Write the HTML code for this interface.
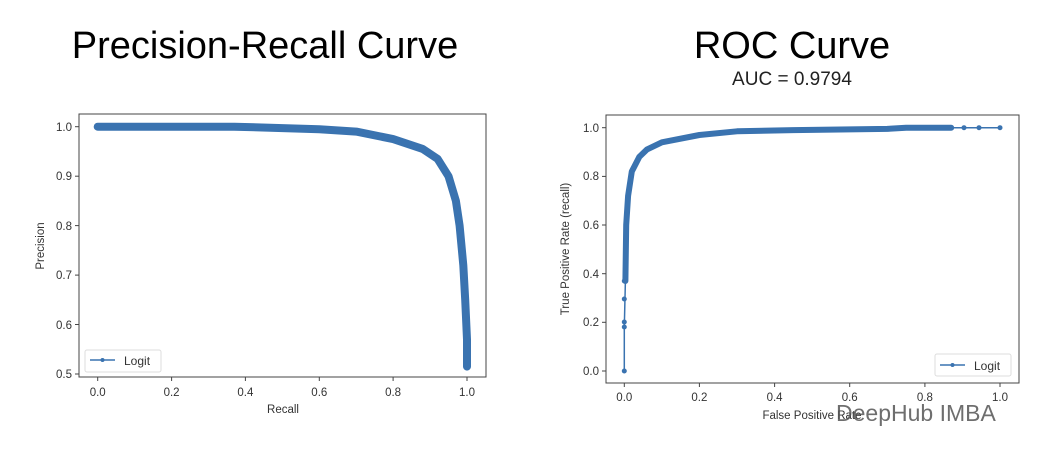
<!DOCTYPE html>
<html><head><meta charset="utf-8"><style>
html,body{margin:0;padding:0;background:#fff;}
svg{display:block;}
text{font-family:"Liberation Sans","DejaVu Sans",sans-serif;fill:#333;}
</style></head><body>
<svg width="1050" height="462" viewBox="0 0 1050 462" xmlns="http://www.w3.org/2000/svg">
<text x="265" y="58" font-size="38" text-anchor="middle" fill="#000" style="fill:#000">Precision-Recall Curve</text>
<text x="792" y="58" font-size="38" text-anchor="middle" style="fill:#000">ROC Curve</text>
<text x="792" y="85" font-size="19" text-anchor="middle" style="fill:#222">AUC = 0.9794</text>

<!-- Left plot -->
<rect x="79" y="114" width="407" height="263" fill="none" stroke="#444" stroke-width="1"/>
<g font-size="11.5" text-anchor="end">
<g stroke="#444"><line x1="75" y1="126.7" x2="79" y2="126.7"/><line x1="75" y1="176.2" x2="79" y2="176.2"/><line x1="75" y1="225.6" x2="79" y2="225.6"/><line x1="75" y1="275.1" x2="79" y2="275.1"/><line x1="75" y1="324.5" x2="79" y2="324.5"/><line x1="75" y1="374" x2="79" y2="374"/></g>
<text x="72" y="131">1.0</text><text x="72" y="180">0.9</text><text x="72" y="230">0.8</text><text x="72" y="279">0.7</text><text x="72" y="329">0.6</text><text x="72" y="378">0.5</text>
</g>
<g font-size="11.5" text-anchor="middle">
<g stroke="#444"><line x1="97.7" y1="377" x2="97.7" y2="381"/><line x1="171.6" y1="377" x2="171.6" y2="381"/><line x1="245.4" y1="377" x2="245.4" y2="381"/><line x1="319.3" y1="377" x2="319.3" y2="381"/><line x1="393.1" y1="377" x2="393.1" y2="381"/><line x1="467" y1="377" x2="467" y2="381"/></g>
<text x="97.7" y="396">0.0</text><text x="171.6" y="396">0.2</text><text x="245.4" y="396">0.4</text><text x="319.3" y="396">0.6</text><text x="393.1" y="396">0.8</text><text x="467" y="396">1.0</text>
<text x="283" y="413">Recall</text>
</g>
<text transform="translate(44,246) rotate(-90)" font-size="11.5" text-anchor="middle">Precision</text>
<polyline fill="none" stroke="#3a73b0" stroke-width="8" stroke-linejoin="round" stroke-linecap="round" points="97.7,126.7 234.3,126.7 319.3,129.2 356.2,131.6 393.1,139.1 422.7,148.9 437.5,158.8 448.5,176.2 455.9,200.9 459.6,225.6 463.3,265.2 465.2,299.8 467,339.4 467,366.6"/>
<rect x="85" y="350" width="76" height="22" fill="#fff" stroke="#ddd" rx="2"/>
<line x1="90" y1="360" x2="115" y2="360" stroke="#3a73b0" stroke-width="1.5"/><circle cx="102.5" cy="360" r="2" fill="#3a73b0"/>
<text x="124" y="365" font-size="12">Logit</text>

<!-- Right plot -->
<rect x="606" y="115" width="413" height="268" fill="none" stroke="#444" stroke-width="1"/>
<g font-size="11.5" text-anchor="end">
<g stroke="#444"><line x1="602" y1="127.7" x2="606" y2="127.7"/><line x1="602" y1="176.4" x2="606" y2="176.4"/><line x1="602" y1="225" x2="606" y2="225"/><line x1="602" y1="273.7" x2="606" y2="273.7"/><line x1="602" y1="322.3" x2="606" y2="322.3"/><line x1="602" y1="371" x2="606" y2="371"/></g>
<text x="599" y="132">1.0</text><text x="599" y="180">0.8</text><text x="599" y="229">0.6</text><text x="599" y="278">0.4</text><text x="599" y="326">0.2</text><text x="599" y="375">0.0</text>
</g>
<g font-size="11.5" text-anchor="middle">
<g stroke="#444"><line x1="624.3" y1="383" x2="624.3" y2="387"/><line x1="699.4" y1="383" x2="699.4" y2="387"/><line x1="774.6" y1="383" x2="774.6" y2="387"/><line x1="849.7" y1="383" x2="849.7" y2="387"/><line x1="924.9" y1="383" x2="924.9" y2="387"/><line x1="1000" y1="383" x2="1000" y2="387"/></g>
<text x="624.3" y="401">0.0</text><text x="699.4" y="401">0.2</text><text x="774.6" y="401">0.4</text><text x="849.7" y="401">0.6</text><text x="924.9" y="401">0.8</text><text x="1000" y="401">1.0</text>
<text x="812" y="419">False Positive Rate</text>
</g>
<text transform="translate(569,249) rotate(-90)" font-size="11.5" text-anchor="middle">True Positive Rate (recall)</text>
<polyline fill="none" stroke="#3a73b0" stroke-width="1.5" points="624.3,371 624.3,327.2 625.4,281"/>
<polyline fill="none" stroke="#3a73b0" stroke-width="1.5" points="951.2,127.7 1000,127.7"/>
<g fill="#3a73b0"><circle cx="624.3" cy="371" r="2.5"/><circle cx="624.3" cy="327" r="2.5"/><circle cx="624.3" cy="322" r="2.5"/><circle cx="624.3" cy="299" r="2.5"/><circle cx="624.3" cy="281" r="2.5"/><circle cx="964" cy="127.7" r="2.5"/><circle cx="979" cy="127.7" r="2.5"/><circle cx="1000" cy="127.7" r="2.5"/></g>
<polyline fill="none" stroke="#3a73b0" stroke-width="6" stroke-linejoin="round" stroke-linecap="round" points="625.4,281 626.2,225 628.1,195.8 631.8,171.5 639.3,156.9 646.8,149.6 661.9,142.3 699.4,135 737,131.3 793.4,130.1 887.3,128.9 906.1,127.7 951.2,127.7"/>
<rect x="935" y="354" width="76" height="22" fill="#fff" stroke="#ddd" rx="2"/>
<line x1="940" y1="365" x2="965" y2="365" stroke="#3a73b0" stroke-width="1.5"/><circle cx="952.5" cy="365" r="2" fill="#3a73b0"/>
<text x="974" y="370" font-size="12">Logit</text>

<!-- watermark -->
<text x="836" y="421" font-size="23" style="fill:#555;opacity:0.85">DeepHub IMBA</text>
</svg>
</body></html>
